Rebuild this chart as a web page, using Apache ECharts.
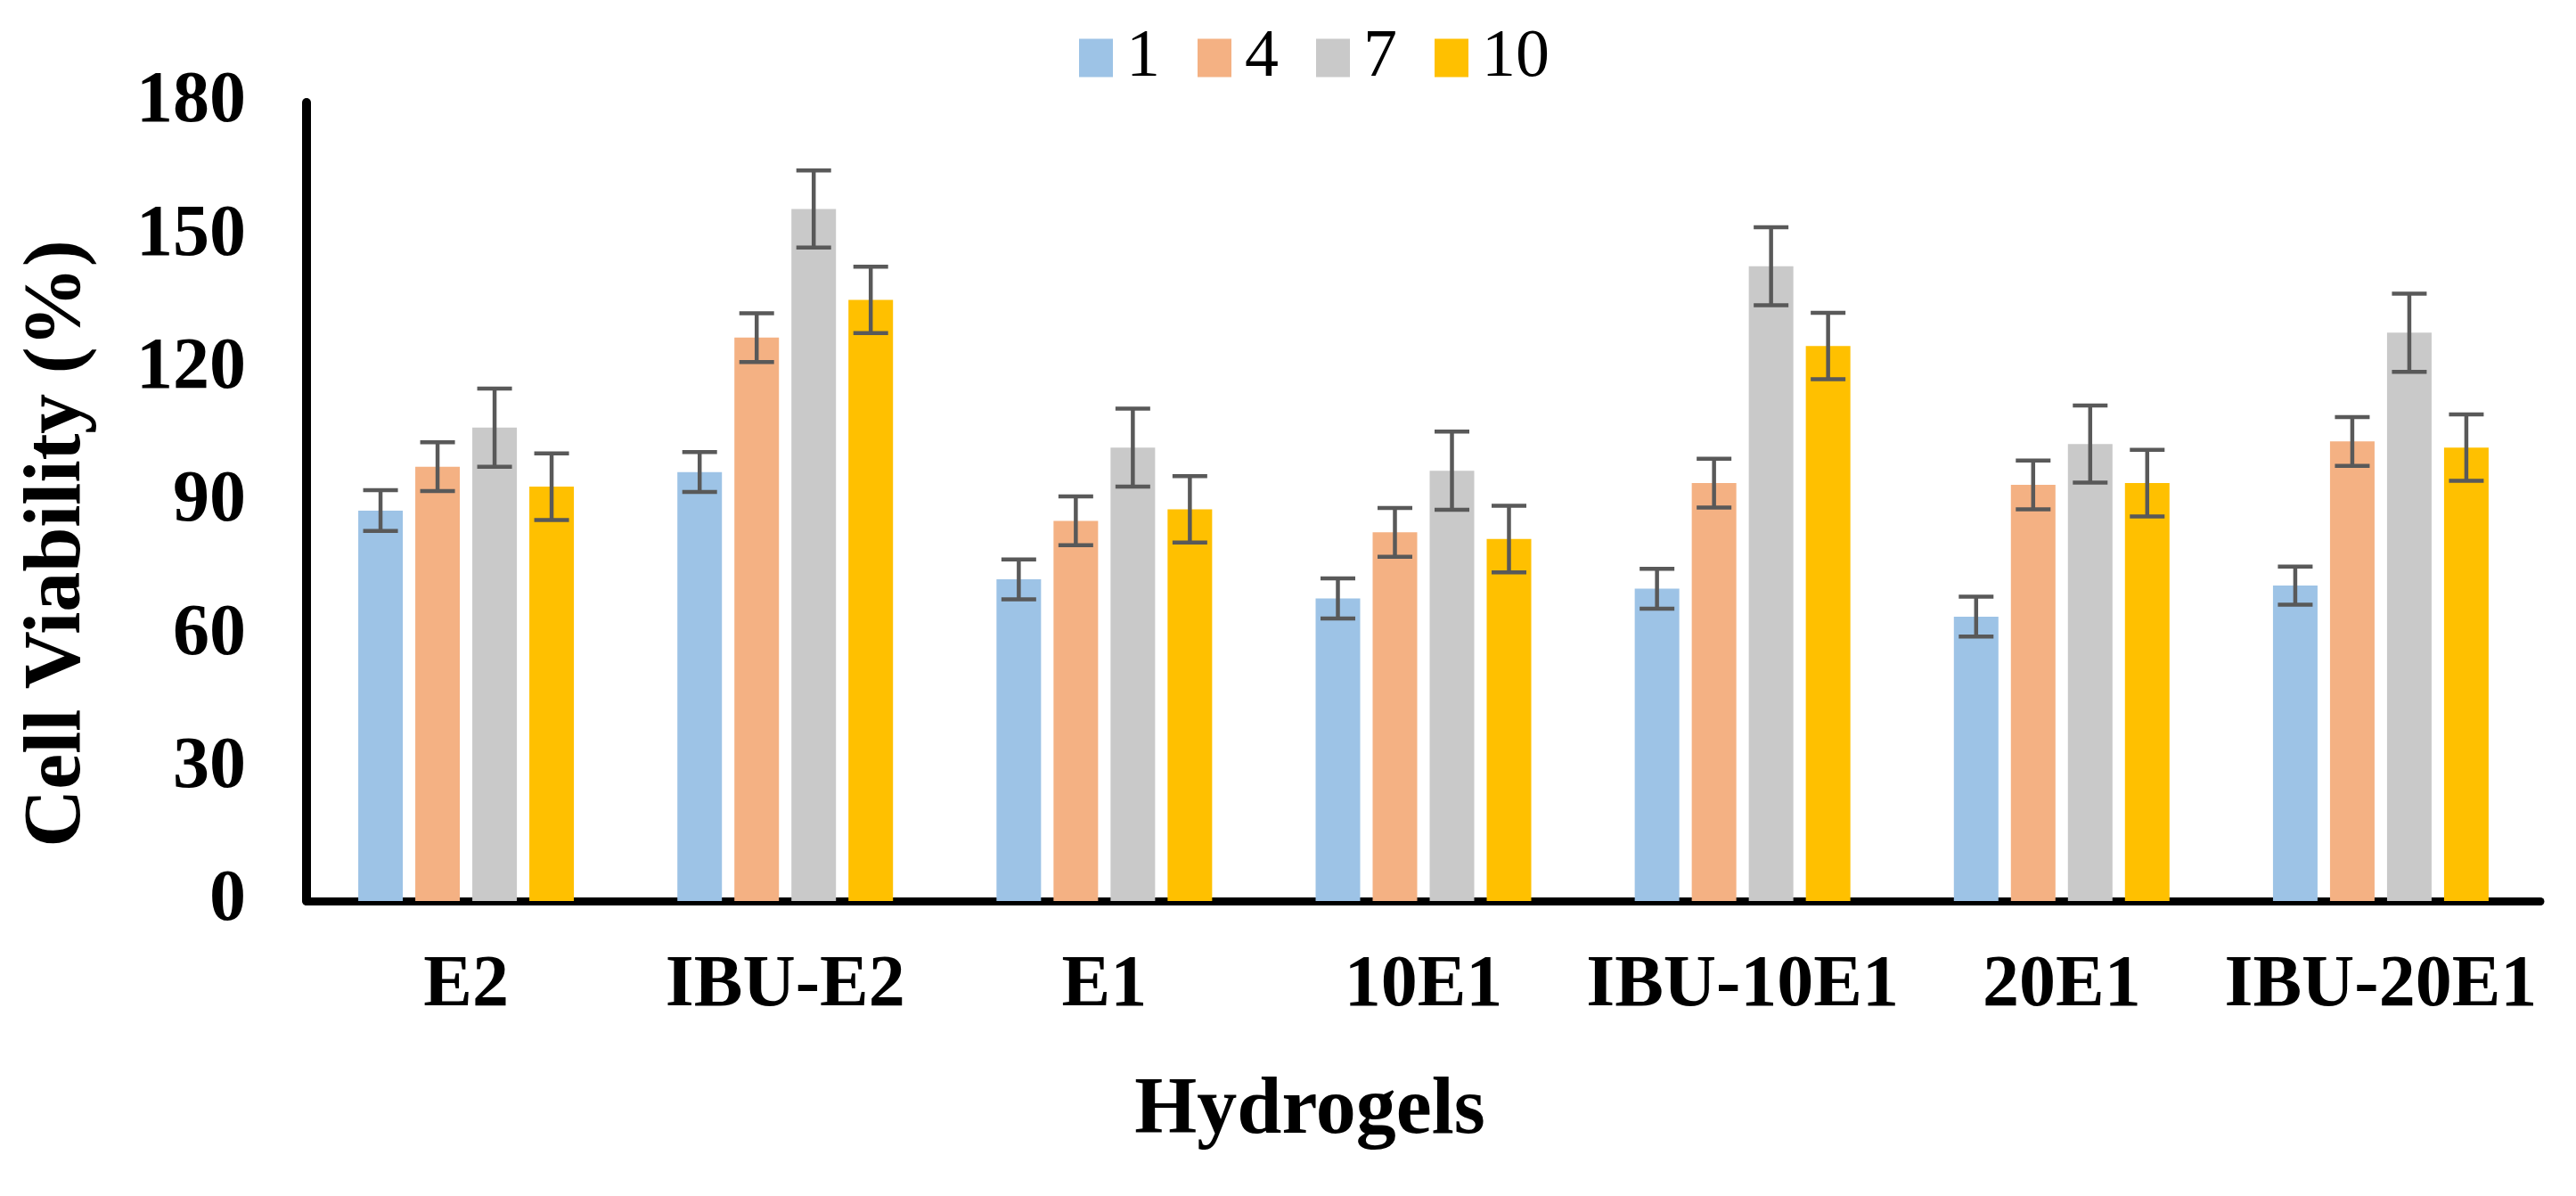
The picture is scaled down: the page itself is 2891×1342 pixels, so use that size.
<!DOCTYPE html>
<html>
<head>
<meta charset="utf-8">
<script src="https://cdn.jsdelivr.net/npm/echarts@6/dist/echarts.min.js"></script>
<style>
  html, body { margin: 0; padding: 0; background: #fff; }
  #chart { width: 2891px; height: 1342px; }
</style>
</head>
<body>
<div id="chart"></div>
<script>
'use strict'
var categories = ['E2', 'IBU-E2', 'E1', '10E1', 'IBU-10E1', '20E1', 'IBU-20E1']
var seriesNames = ['1', '4', '7', '10']
var day1 = [88.0, 96.7, 72.5, 68.2, 70.4, 64.1, 71.1]
var day4 = [97.9, 127.0, 85.7, 83.1, 94.2, 93.8, 103.6]
var day7 = [106.7, 156.0, 102.2, 97.0, 143.1, 103.0, 128.1]
var day10 = [93.4, 135.5, 88.3, 81.6, 125.1, 94.2, 102.2]
var err1 = [4.6, 4.5, 4.5, 4.5, 4.5, 4.5, 4.3]
var err4 = [5.5, 5.5, 5.5, 5.5, 5.5, 5.5, 5.5]
var err7 = [8.8, 8.7, 8.8, 8.8, 8.8, 8.7, 8.8]
var err10 = [7.5, 7.5, 7.5, 7.5, 7.5, 7.5, 7.5]
var yTicks = [0, 30, 60, 90, 120, 150, 180]

var colors = ['#9DC3E6', '#F4B183', '#C9C9C9', '#FFC000']
var FONT = 'Liberation Serif'
var BAR_W = 50
var BAR_GAP = 0.28 //间隔

var values = [day1, day4, day7, day10]
var errors = [err1, err4, err7, err10]

var chart = echarts.init(document.getElementById('chart'))

var barSeries = values.map(function(v, i) {
  return {
    name: seriesNames[i],
    type: 'bar',
    data: v,
    barWidth: BAR_W,
    barGap: (BAR_GAP * 100) + '%',
    itemStyle: { color: colors[i] },
    z: 2
  }
})

// error bars: [category, seriesIndex, mean, err]
var errData = []
values.forEach(function(v, s) {
  v.forEach(function(m, c) {
    errData.push([c, s, m, errors[s][c]])
  })
})

var errSeries = {
  type: 'custom',
  data: errData,
  encode: { x: 0, y: 2 },
  z: 5,
  silent: true,
  renderItem: function(params, api) {
    var c = api.value(0)
    var s = api.value(1)
    var m = api.value(2)
    var e = api.value(3)
    var step = BAR_W * (1 + BAR_GAP)
    var dx = (s - 1.5) * step
    var top = api.coord([c, m + e])
    var bot = api.coord([c, m - e])
    var x = top[0] + dx
    var half = 19.5
    var st = { stroke: '#595959', lineWidth: 4.5 }
    return {
      type: 'group',
      children: [
        { type: 'line', shape: { x1: x, y1: top[1], x2: x, y2: bot[1] }, style: st },
        { type: 'line', shape: { x1: x - half, y1: top[1], x2: x + half, y2: top[1] }, style: st },
        { type: 'line', shape: { x1: x - half, y1: bot[1], x2: x + half, y2: bot[1] }, style: st }
      ]
    }
  }
}

var option = {
  backgroundColor: '#ffffff',
  animation: false,
  grid: {
    left: 344,
    right: 40,
    top: 115,
    bottom: 331,
    containLabel: false
  },
  legend: {
    data: seriesNames,
    left: 1206,
    top: 22,
    icon: 'rect',
    itemWidth: 38,
    itemHeight: 43,
    itemGap: 42,
    textStyle: {
      fontFamily: FONT,
      fontSize: 76,
      color: '#000',
      padding: [0, 0, 0, 10]
    }
  },
  xAxis: {
    type: 'category',
    data: categories,
    axisLine: { lineStyle: { color: '#000', width: 9 } },
    axisTick: { show: false },
    axisLabel: {
      interval: 0,
      margin: 55,
      fontFamily: FONT,
      fontWeight: 'bold',
      fontSize: 82,
      color: '#000'
    }
  },
  yAxis: {
    type: 'value',
    min: yTicks[0],
    max: yTicks[yTicks.length - 1],
    interval: yTicks[1] - yTicks[0],
    axisLine: { show: true, lineStyle: { color: '#000', width: 10 } },
    axisTick: { show: false },
    splitLine: { show: false },
    axisLabel: {
      margin: 68,
      fontFamily: FONT,
      fontWeight: 'bold',
      fontSize: 82,
      color: '#000'
    }
  },
  graphic: [
    {
      type: 'text',
      x: 1470,
      y: 1248,
      style: {
        text: 'Hydrogels',
        fontFamily: FONT,
        fontWeight: 'bold',
        fontSize: 90,
        fill: '#000',
        textAlign: 'center',
        textVerticalAlign: 'middle'
      }
    },
    {
      type: 'text',
      x: 66,
      y: 610,
      rotation: Math.PI / 2,
      style: {
        text: 'Cell Viability (%)',
        fontFamily: FONT,
        fontWeight: 'bold',
        fontSize: 90,
        fill: '#000',
        textAlign: 'center',
        textVerticalAlign: 'middle'
      }
    }
  ],
  series: barSeries.concat([errSeries])
}

chart.setOption(option)
</script>
</body>
</html>
